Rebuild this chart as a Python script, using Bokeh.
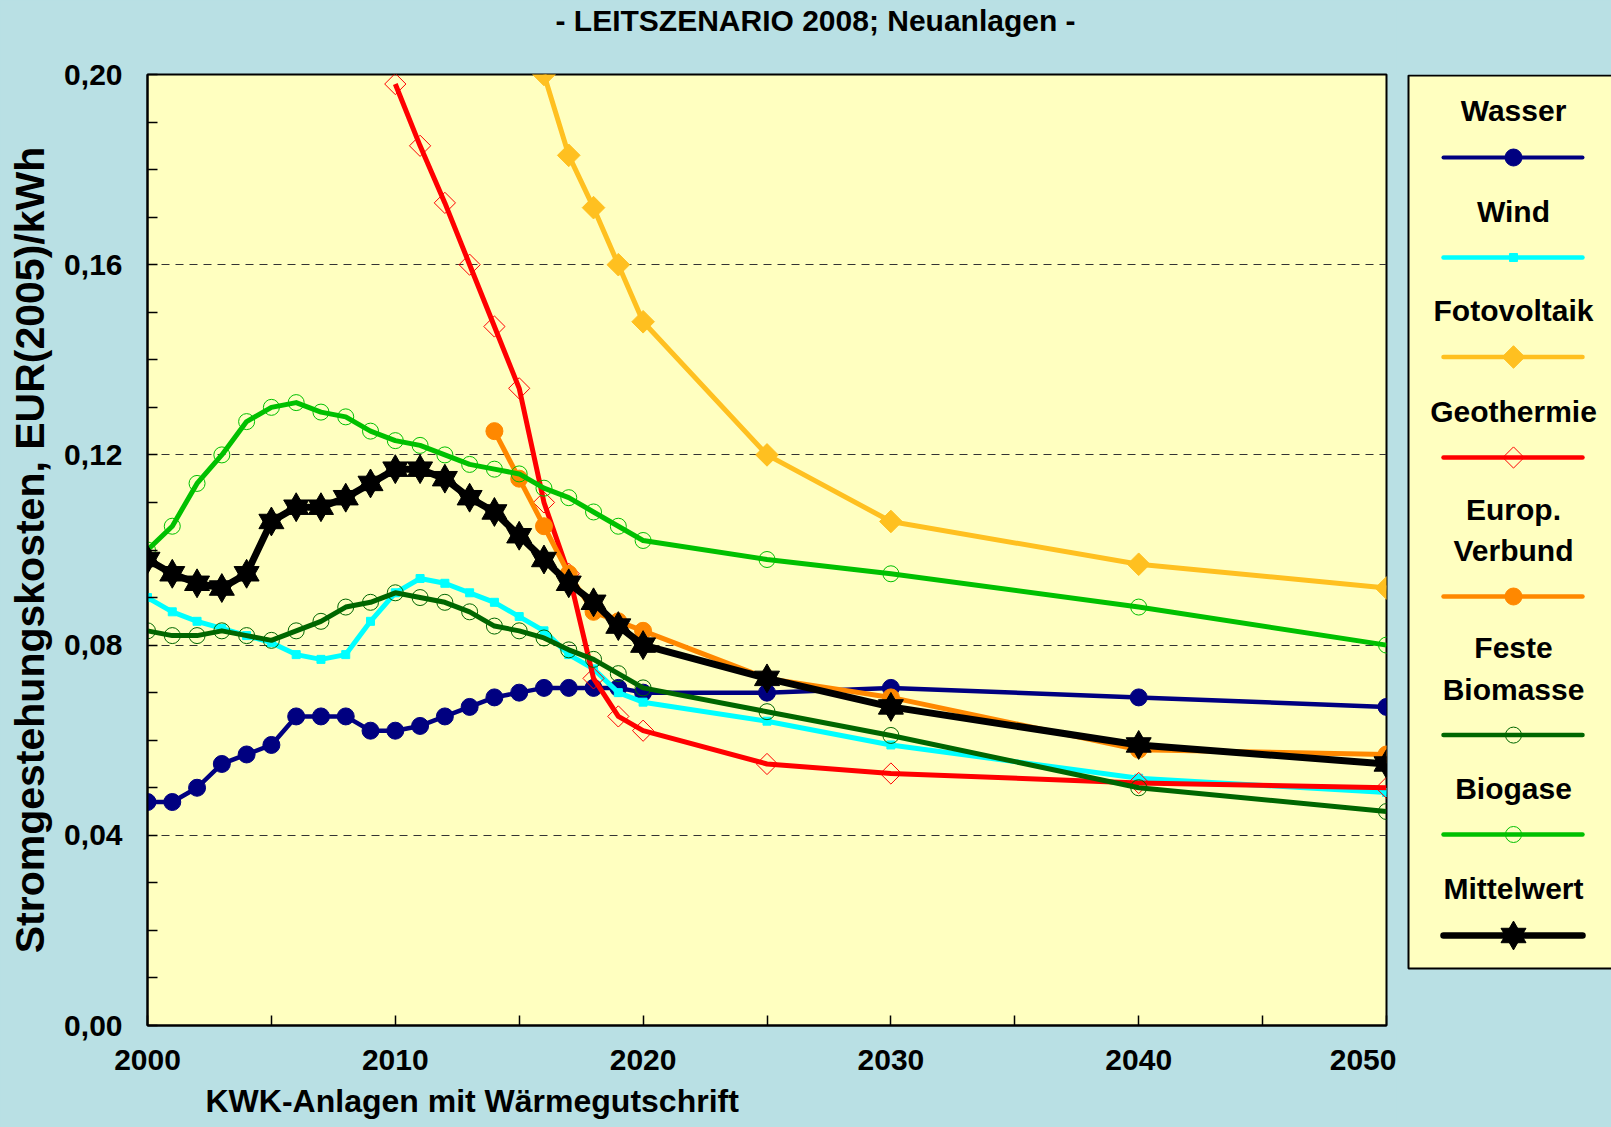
import math
from bokeh.plotting import figure
from bokeh.models import Range1d, FixedTicker, CustomJSTickFormatter, Title
from bokeh.layouts import row
from bokeh.embed import file_html
from bokeh.resources import INLINE
from bokeh.core.properties import value

# ---------------- data ----------------
title_text = "- LEITSZENARIO 2008; Neuanlagen -"
y_title = "Stromgestehungskosten, EUR(2005)/kWh"
x_title = "KWK-Anlagen mit Wärmegutschrift"

series_names = ["Wasser", "Wind", "Fotovoltaik", "Geothermie",
                "Europ.\nVerbund", "Feste\nBiomasse", "Biogase", "Mittelwert"]

years_all = [2000, 2001, 2002, 2003, 2004, 2005, 2006, 2007, 2008, 2009, 2010,
             2011, 2012, 2013, 2014, 2015, 2016, 2017, 2018, 2019, 2020,
             2025, 2030, 2040, 2050]
years_foto = [2016, 2017, 2018, 2019, 2020, 2025, 2030, 2040, 2050]
years_geo = [2010, 2011, 2012, 2013, 2014, 2015, 2016, 2017, 2018, 2019, 2020,
             2025, 2030, 2040, 2050]
years_eu = [2014, 2015, 2016, 2017, 2018, 2019, 2020, 2025, 2030, 2040, 2050]

wasser = [0.047, 0.047, 0.050, 0.055, 0.057, 0.059, 0.065, 0.065, 0.065, 0.062, 0.062,
          0.063, 0.065, 0.067, 0.069, 0.070, 0.071, 0.071, 0.071, 0.071, 0.070,
          0.070, 0.071, 0.069, 0.067]
wind = [0.090, 0.087, 0.085, 0.0835, 0.082, 0.0805, 0.078, 0.077, 0.078, 0.085, 0.091,
        0.094, 0.093, 0.091, 0.089, 0.086, 0.083, 0.078, 0.075, 0.070, 0.068,
        0.064, 0.059, 0.052, 0.049]
foto = [0.200, 0.183, 0.172, 0.160, 0.148, 0.120, 0.106, 0.097, 0.092]
geo = [0.198, 0.185, 0.173, 0.160, 0.147, 0.134, 0.110, 0.095, 0.073, 0.065, 0.062,
       0.055, 0.053, 0.051, 0.050]
eu = [0.125, 0.115, 0.105, 0.095, 0.087, 0.085, 0.083, 0.073, 0.069, 0.058, 0.057]
biomasse = [0.083, 0.082, 0.082, 0.083, 0.082, 0.081, 0.083, 0.085, 0.088, 0.089, 0.091,
            0.090, 0.089, 0.087, 0.084, 0.083, 0.0815, 0.079, 0.077, 0.074, 0.071,
            0.066, 0.061, 0.050, 0.045]
biogas = [0.100, 0.105, 0.114, 0.120, 0.127, 0.130, 0.131, 0.129, 0.128, 0.125, 0.123,
          0.122, 0.120, 0.118, 0.117, 0.116, 0.113, 0.111, 0.108, 0.105, 0.102,
          0.098, 0.095, 0.088, 0.080]
mittel = [0.098, 0.095, 0.093, 0.092, 0.095, 0.106, 0.109, 0.109, 0.111, 0.114, 0.117,
          0.117, 0.115, 0.111, 0.108, 0.103, 0.098, 0.093, 0.089, 0.084, 0.080,
          0.073, 0.067, 0.059, 0.055]

y_ticks = [0.0, 0.04, 0.08, 0.12, 0.16, 0.20]
y_minor = [0.01, 0.02, 0.03, 0.05, 0.06, 0.07, 0.09, 0.10, 0.11, 0.13, 0.14, 0.15,
           0.17, 0.18, 0.19]
x_ticks = [2000, 2010, 2020, 2030, 2040, 2050]
x_minor = [2005, 2015, 2025, 2035, 2045]

# ---------------- styles ----------------
FONT = "Liberation Sans"
BG = "#B9E0E4"
PLOT_BG = "#FFFFC0"

styles = [
    dict(color="#000080", lw=4.5, marker="circle", size=17, filled=True),
    dict(color="#00FFFF", lw=5, marker="square", size=8, filled=True),
    dict(color="#FFC020", lw=5, marker="diamond", size=16, filled=True),
    dict(color="#FF0000", lw=5, marker="diamond", size=15, filled=False),
    dict(color="#FF8800", lw=5, marker="circle", size=17, filled=True),
    dict(color="#006600", lw=5, marker="circle", size=16, filled=False),
    dict(color="#00C000", lw=5, marker="circle", size=16, filled=False),
    dict(color="#000000", lw=7, marker="hexagram", size=25, filled=True),
]
series_x = [years_all, years_all, years_foto, years_geo, years_eu, years_all, years_all, years_all]
series_y = [wasser, wind, foto, geo, eu, biomasse, biogas, mittel]


def draw_markers(fig, xs, ys, st):
    c = st["color"]
    s = st["size"]
    fill = c if st["filled"] else None
    if st["marker"] == "hexagram":
        fig.scatter(xs, ys, marker="triangle", size=s, fill_color=c, line_color=c)
        fig.scatter(xs, ys, marker="inverted_triangle", size=s, fill_color=c, line_color=c)
    elif st["marker"] == "diamond":
        fig.scatter(xs, ys, marker="square", angle=math.pi / 4, size=s,
                    fill_color=fill, line_color=c, line_width=1)
    else:
        fig.scatter(xs, ys, marker=st["marker"], size=s,
                    fill_color=fill, line_color=c, line_width=1)


# ---------------- main figure ----------------
p = figure(width=1396, height=1127,
           x_range=Range1d(2000, 2050), y_range=Range1d(0, 0.2),
           min_border_left=147, min_border_right=10, min_border_top=74, min_border_bottom=102,
           output_backend="svg", toolbar_location=None,
           background_fill_color=PLOT_BG, border_fill_color=BG,
           outline_line_color="black", outline_line_width=2)

# the trailing empty line lifts the title towards the top edge of the canvas
p.title = Title(text=title_text + "\n ", align="left", offset=408, standoff=0,
                vertical_align="top", text_line_height=1.1,
                text_font=FONT, text_font_style="bold", text_font_size="30px",
                text_color="black")
p.add_layout(Title(text=x_title, align="left", offset=58, standoff=17,
                   text_font=FONT, text_font_style="bold", text_font_size="32px",
                   text_color="black"), "below")

p.xgrid.visible = False
p.ygrid.ticker = FixedTicker(ticks=[0.04, 0.08, 0.12, 0.16])
p.ygrid.grid_line_color = "#333333"
p.ygrid.grid_line_dash = "8 6"
p.ygrid.grid_line_width = 1

for ax in (p.xaxis[0], p.yaxis[0]):
    ax.axis_line_color = "black"
    ax.axis_line_width = 2
    ax.major_tick_in = 10
    ax.major_tick_out = 0
    ax.minor_tick_in = 10
    ax.minor_tick_out = 0
    ax.major_tick_line_color = "black"
    ax.minor_tick_line_color = "black"
    ax.major_tick_line_width = 1.5
    ax.minor_tick_line_width = 1.5
    ax.major_label_text_font = FONT
    ax.major_label_text_font_style = "bold"
    ax.major_label_text_font_size = "30px"
    ax.major_label_text_color = "black"

p.yaxis[0].ticker = FixedTicker(ticks=y_ticks, minor_ticks=y_minor)
p.yaxis[0].formatter = CustomJSTickFormatter(code="return tick.toFixed(2).replace('.', ',');")
p.yaxis[0].major_label_standoff = 25
p.yaxis[0].axis_label = y_title
p.yaxis[0].axis_label_text_font = FONT
p.yaxis[0].axis_label_text_font_style = "bold"
p.yaxis[0].axis_label_text_font_size = "41px"
p.yaxis[0].axis_label_text_color = "black"
p.yaxis[0].axis_label_standoff = 8
p.xaxis[0].ticker = FixedTicker(ticks=x_ticks, minor_ticks=x_minor)
p.xaxis[0].major_label_standoff = 24

for xs, ys, st in zip(series_x, series_y, styles):
    p.line(xs, ys, line_color=st["color"], line_width=st["lw"], line_join="round")
    draw_markers(p, xs, ys, st)

# ---------------- legend figure ----------------
lg = figure(width=215, height=1127, x_range=Range1d(0, 215), y_range=Range1d(1025, 74),
            min_border_left=0, min_border_right=0, min_border_top=74, min_border_bottom=102,
            x_axis_location=None, y_axis_location=None,
            output_backend="svg", toolbar_location=None,
            background_fill_color=BG, border_fill_color=BG, outline_line_color=None)
lg.xgrid.visible = False
lg.ygrid.visible = False
lg.quad(left=[12], right=[300], top=[75], bottom=[968],
        fill_color=PLOT_BG, line_color="black", line_width=2)

text_y = [110, 211, 310, 411, 529.6, 668, 788, 887.7]
line_y = [157, 257, 356.5, 457, 596, 734.6, 834, 935]
lg.text(x=[117] * len(series_names), y=text_y, text=series_names,
        text_align="center", text_baseline="middle", text_font=value(FONT),
        text_font_style="bold", text_font_size="30px", text_color="black",
        text_line_height=1.25)
for ly, st in zip(line_y, styles):
    lg.line([47, 186], [ly, ly], line_color=st["color"], line_width=st["lw"] - 0.5,
            line_cap="round")
    draw_markers(lg, [117], [ly], st)

layout = row(p, lg, styles={"background-color": BG})
open("out.html", "w").write(file_html(layout, INLINE))
